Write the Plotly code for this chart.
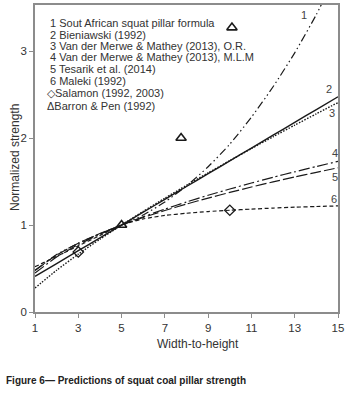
import plotly.graph_objects as go

# ---- data ----
x_int = [1, 2, 3, 4, 5, 6, 7, 8, 9, 10, 11, 12, 13, 14, 15]
c1_x = [1, 2, 3, 4, 5, 6, 7, 8, 9, 10, 11, 12, 13, 14, 14.3]
c1_y = [0.48, 0.66, 0.79, 0.90, 1.00, 1.115, 1.265, 1.45, 1.67, 1.93, 2.24, 2.59, 2.98, 3.42, 3.57]
c2_y = [0.41, 0.557, 0.705, 0.852, 1.0, 1.148, 1.295, 1.443, 1.59, 1.738, 1.885, 2.033, 2.18, 2.328, 2.475]
c3_y = [0.276, 0.48, 0.665, 0.837, 1.0, 1.157, 1.309, 1.457, 1.60, 1.741, 1.879, 2.015, 2.148, 2.279, 2.408]
c4_y = [0.447, 0.632, 0.775, 0.894, 1.0, 1.095, 1.183, 1.265, 1.342, 1.414, 1.483, 1.549, 1.612, 1.673, 1.732]
c5_y = [0.477, 0.656, 0.791, 0.902, 1.0, 1.087, 1.167, 1.241, 1.31, 1.375, 1.437, 1.496, 1.552, 1.606, 1.658]
c6_y = [0.52, 0.64, 0.76, 0.88, 1.0, 1.07, 1.11, 1.135, 1.155, 1.17, 1.183, 1.195, 1.205, 1.213, 1.22]

salamon_x = [3, 10]
salamon_y = [0.69, 1.17]
barron_x = [5, 7.75, 10.1]
barron_y = [1.0, 2.0, 3.27]

legend_labels = [
    "1 Sout African squat pillar formula",
    "2 Bieniawski (1992)",
    "3 Van der Merwe & Mathey (2013), O.R.",
    "4 Van der Merwe & Mathey (2013), M.L.M",
    "5 Tesarik et al. (2014)",
    "6 Maleki (1992)",
    "◇Salamon (1992, 2003)",
    "ΔBarron & Pen (1992)",
]
curve_ids = ["1", "2", "3", "4", "5", "6"]
curve_label_x = [13.45, 14.6, 14.72, 14.88, 14.88, 14.8]
curve_label_y = [3.41, 2.56, 2.29, 1.83, 1.55, 1.30]

x_ticks = [1, 3, 5, 7, 9, 11, 13, 15]
y_ticks = [0, 1, 2, 3]

FONT = "Liberation Sans, Arial, sans-serif"
LC = "#1a1a1a"

W, H = 354, 393
ml, mr, mt, mb = 35, 16, 5, 81
pw, ph = W - ml - mr, H - mt - mb

def px_to_paper(px, py):
    return (px - ml) / pw, (H - mb - py) / ph

fig = go.Figure()

def add_line(x, y, dash, width=1.2):
    fig.add_trace(go.Scatter(x=x, y=y, mode="lines",
                             line=dict(color=LC, width=width, dash=dash, shape="spline", smoothing=0.6),
                             showlegend=False, hoverinfo="skip"))

add_line(c1_x, c1_y, "8px,3px,1.5px,3px,1.5px,3px")
add_line(x_int, c2_y, "solid", 1.4)
add_line(x_int, c3_y, "1.5px,1.5px", 1.4)
add_line(x_int, c4_y, "11px,3px,2px,3px")
add_line(x_int, c5_y, "11px,3px")
add_line(x_int, c6_y, "4px,2.5px")

fig.add_trace(go.Scatter(x=salamon_x, y=salamon_y, mode="markers",
                         marker=dict(symbol="diamond-open", size=8, color=LC, line=dict(width=1.3, color=LC)),
                         showlegend=False, hoverinfo="skip"))
fig.add_trace(go.Scatter(x=barron_x, y=barron_y, mode="markers",
                         marker=dict(symbol="triangle-up-open", size=9, color=LC, line=dict(width=1.6, color=LC)),
                         showlegend=False, hoverinfo="skip"))

annotations = []
legend_py = [23, 34.5, 46, 57.5, 69, 80.5, 92.5, 105.5]
legend_px = [48, 48, 48, 48, 48, 48, 45, 45]
for lab, py, px in zip(legend_labels, legend_py, legend_px):
    ax_, ay_ = px_to_paper(px, py)
    annotations.append(dict(text=lab, x=ax_, y=ay_, xref="paper", yref="paper",
                            xanchor="left", yanchor="middle", showarrow=False,
                            font=dict(family=FONT, size=11, color="#333333")))
for cid, lx, ly in zip(curve_ids, curve_label_x, curve_label_y):
    annotations.append(dict(text=cid, x=lx, y=ly, xref="x", yref="y",
                            xanchor="center", yanchor="middle", showarrow=False,
                            font=dict(family=FONT, size=11, color="#444444")))

tx, ty = px_to_paper(198, 344)
annotations.append(dict(text="Width-to-height", x=tx, y=ty, xref="paper", yref="paper",
                        xanchor="center", yanchor="middle", showarrow=False,
                        font=dict(family=FONT, size=12, color="#333333")))
yx, yy = px_to_paper(15, 158)
annotations.append(dict(text="Normalized strength", x=yx, y=yy, xref="paper", yref="paper",
                        xanchor="center", yanchor="middle", textangle=-90, showarrow=False,
                        font=dict(family=FONT, size=12, color="#333333")))
cx, cy = px_to_paper(4, 380)
annotations.append(dict(text="<b>Figure 6— Predictions of squat coal pillar strength</b>",
                        x=cx, y=cy, xref="paper", yref="paper", xanchor="left", yanchor="middle",
                        showarrow=False,
                        font=dict(family=FONT, size=10, color="#222222")))

axis_common = dict(showgrid=False, zeroline=False, showline=True, linecolor="#8c8c8c", linewidth=1.5,
                   mirror=True, ticks="outside", ticklen=4, tickcolor="#8c8c8c", tickwidth=1,
                   automargin=False, tickfont=dict(family=FONT, size=11.5, color="#333333"))

fig.update_layout(
    width=W, height=H,
    margin=dict(l=ml, r=mr, t=mt, b=mb, autoexpand=False),
    paper_bgcolor="white", plot_bgcolor="white",
    font=dict(family=FONT, size=11, color="#333333"),
    annotations=annotations,
    xaxis=dict(range=[1, 15], tickvals=x_ticks, ticktext=[str(v) for v in x_ticks], **axis_common),
    yaxis=dict(range=[0, 3.53], tickvals=y_ticks, ticktext=[str(v) for v in y_ticks], **axis_common),
)

fig.write_html("out.html", config={"displayModeBar": False},
               post_script="document.body.style.margin='0';")
